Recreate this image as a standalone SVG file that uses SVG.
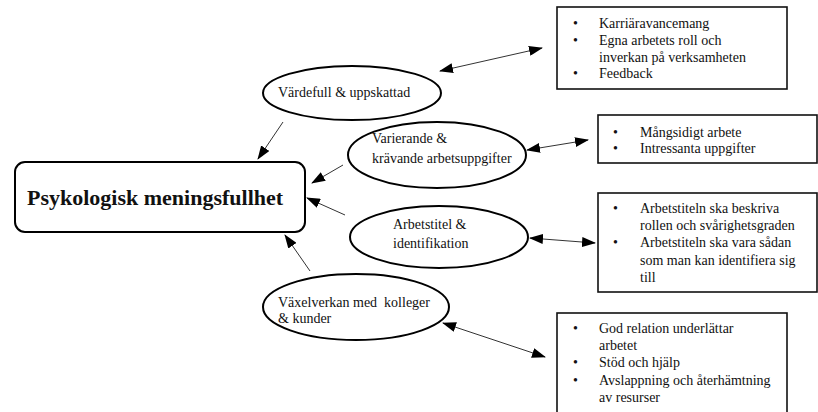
<svg xmlns="http://www.w3.org/2000/svg" width="818" height="412" viewBox="0 0 818 412">
<defs>
<marker id="ah" markerWidth="14" markerHeight="10" refX="13" refY="5" orient="auto" markerUnits="userSpaceOnUse">
<path d="M0,0 L14,5 L0,10 Z" fill="#000"/>
</marker>
<marker id="as" markerWidth="14" markerHeight="10" refX="1" refY="5" orient="auto" markerUnits="userSpaceOnUse">
<path d="M14,0 L0,5 L14,10 Z" fill="#000"/>
</marker>
<style>
text{font-family:"Liberation Serif","Times New Roman",serif;font-size:14px;fill:#111}
.t{font-size:22px;font-weight:bold}
.ell{fill:#fff;stroke:#000;stroke-width:2}
.box{fill:#fff;stroke:#111;stroke-width:1.6}
.c{stroke:#333;stroke-width:1;fill:none}
</style>
</defs>
<rect width="818" height="412" fill="#fff"/>
<g id="main">
<rect x="15" y="162" width="290" height="70" rx="10" fill="#fff" stroke="#000" stroke-width="2"/>
<text class="t" x="27" y="205">Psykologisk meningsfullhet</text>
</g>
<g id="e1">
<ellipse class="ell" cx="352" cy="93" rx="89" ry="27"/>
<text x="278" y="97">Värdefull &amp; uppskattad</text>
</g>
<g id="e2">
<ellipse class="ell" cx="437" cy="155" rx="89" ry="33"/>
<text x="372" y="143">Varierande &amp;</text>
<text x="372" y="163">krävande arbetsuppgifter</text>
</g>
<g id="e3">
<ellipse class="ell" cx="439" cy="237" rx="89" ry="31"/>
<text x="393" y="229">Arbetstitel &amp;</text>
<text x="393" y="248">identifikation</text>
</g>
<g id="e4">
<ellipse class="ell" cx="356" cy="307" rx="93" ry="33"/>
<text x="278" y="307" xml:space="preserve">Växelverkan med  kolleger</text>
<text x="278" y="323">&amp; kunder</text>
</g>
<g id="b1">
<rect class="box" x="557" y="7" width="230" height="82"/>
<text x="573" y="28">•</text><text x="599" y="28">Karriäravancemang</text>
<text x="573" y="45">•</text><text x="599" y="45">Egna arbetets roll och</text>
<text x="599" y="62">inverkan på verksamheten</text>
<text x="573" y="78">•</text><text x="599" y="78">Feedback</text>
</g>
<g id="b2">
<rect class="box" x="598" y="115" width="219" height="48"/>
<text x="613" y="137">•</text><text x="640" y="137">Mångsidigt arbete</text>
<text x="613" y="153">•</text><text x="640" y="153">Intressanta uppgifter</text>
</g>
<g id="b3">
<rect class="box" x="598" y="193" width="219" height="99"/>
<text x="613" y="213">•</text><text x="640" y="213">Arbetstiteln ska beskriva</text>
<text x="640" y="230">rollen och svårighetsgraden</text>
<text x="613" y="247">•</text><text x="640" y="247">Arbetstiteln ska vara sådan</text>
<text x="640" y="265">som man kan identifiera sig</text>
<text x="640" y="282">till</text>
</g>
<g id="b4">
<rect class="box" x="557" y="313" width="230" height="110"/>
<text x="573" y="333">•</text><text x="599" y="333">God relation underlättar</text>
<text x="599" y="350">arbetet</text>
<text x="573" y="367">•</text><text x="599" y="367">Stöd och hjälp</text>
<text x="573" y="385">•</text><text x="599" y="385">Avslappning och återhämtning</text>
<text x="599" y="402">av resurser</text>
</g>
<g id="connectors">
<line class="c" x1="283" y1="122" x2="258" y2="159" marker-end="url(#ah)"/>
<line class="c" x1="343" y1="165" x2="312" y2="183" marker-end="url(#ah)"/>
<line class="c" x1="345" y1="215" x2="307" y2="198" marker-end="url(#ah)"/>
<line class="c" x1="310" y1="271" x2="285" y2="235" marker-end="url(#ah)"/>
<line class="c" x1="440" y1="71" x2="542" y2="48" marker-start="url(#as)" marker-end="url(#ah)"/>
<line class="c" x1="527" y1="150" x2="588" y2="140" marker-start="url(#as)" marker-end="url(#ah)"/>
<line class="c" x1="530" y1="238" x2="595" y2="243" marker-start="url(#as)" marker-end="url(#ah)"/>
<line class="c" x1="443" y1="323" x2="545" y2="357" marker-start="url(#as)" marker-end="url(#ah)"/>
</g>
</svg>
